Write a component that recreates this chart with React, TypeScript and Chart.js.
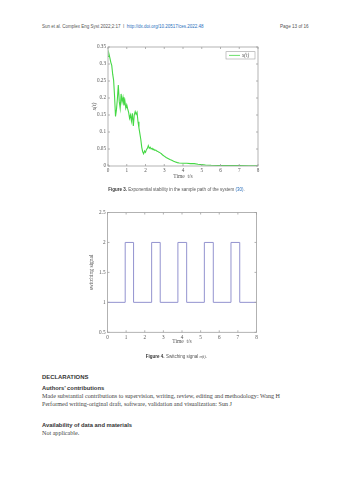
import React, { useEffect, useRef } from "react";
import { Chart, registerables } from "chart.js";

Chart.register(...registerables);

// ---------- Figure 3 data: sample path x(t) ----------
const pathTimes = [
  0.0, 0.05, 0.1, 0.15, 0.2, 0.25, 0.3, 0.35, 0.4, 0.45, 0.5, 0.55, 0.6, 0.65, 0.7, 0.75, 0.8, 0.85, 0.9, 0.95,
  1.0, 1.05, 1.1, 1.15, 1.2, 1.25, 1.3, 1.35, 1.4, 1.45, 1.5, 1.55, 1.6, 1.65, 1.7, 1.75, 1.8, 1.85, 1.9, 1.95,
  2.0, 2.05, 2.1, 2.15, 2.2, 2.25, 2.3, 2.35, 2.4, 2.45, 2.5, 2.55, 2.6, 2.65, 2.7, 2.75, 2.8, 2.85, 2.9, 2.95,
  3.0, 3.1, 3.2, 3.3, 3.4, 3.5, 3.6, 3.7, 3.8, 4.0, 4.2, 4.4, 4.6, 4.8, 5.0, 5.2, 5.5, 6.0, 6.5, 7.0, 7.5, 8.0,
];
const pathValues = [
  0.322, 0.33, 0.318, 0.305, 0.296, 0.27, 0.252, 0.205, 0.146, 0.165, 0.198, 0.238, 0.19, 0.17, 0.212, 0.188, 0.202, 0.178, 0.192, 0.17,
  0.18, 0.168, 0.158, 0.14, 0.15, 0.132, 0.155, 0.118, 0.15, 0.16, 0.152, 0.158, 0.13, 0.112, 0.095, 0.078, 0.055, 0.042, 0.036, 0.044,
  0.04, 0.048, 0.052, 0.06, 0.052, 0.055, 0.05, 0.052, 0.048, 0.049, 0.046, 0.047, 0.044, 0.043, 0.041, 0.04, 0.038, 0.036, 0.033, 0.031,
  0.029, 0.025, 0.022, 0.019, 0.017, 0.014, 0.012, 0.01, 0.009, 0.008, 0.008, 0.007, 0.007, 0.005, 0.004, 0.003, 0.002, 0.0015, 0.001, 0.001, 0.0008, 0.0008,
];

// ---------- Figure 4 data: switching signal ----------
const switchTimes = [0, 0.95, 1.4, 2.37, 2.83, 3.78, 4.25, 5.2, 5.68, 6.63, 7.1, 8];
const switchValues = [1, 2, 1, 2, 1, 2, 1, 2, 1, 2, 1, 1];

const xTicks1 = [0, 1, 2, 3, 4, 5, 6, 7, 8];
const yTicks1 = [0, 0.05, 0.1, 0.15, 0.2, 0.25, 0.3, 0.35];
const yTicks2 = [0.5, 1, 1.5, 2, 2.5];

const TICK_FONT = { family: "'Liberation Serif', 'DejaVu Serif', serif", size: 5.2 };
const TICK_COLOR = "#555";
const FRAME_COLOR = "#a0a0a0";
const GREEN = "#45d845";
const PURPLE = "#9393cf";

const framePlugin = {
  id: "frame",
  afterDraw(chart: any, _args: any, opts: any) {
    const { ctx, chartArea, scales } = chart;
    const { left, right, top, bottom } = chartArea;
    const xs = scales.x;
    const ys = scales.y;
    ctx.save();
    ctx.strokeStyle = FRAME_COLOR;
    ctx.lineWidth = 0.8;
    ctx.strokeRect(left, top, right - left, bottom - top);
    const tl = 2;
    ctx.beginPath();
    xs.ticks.forEach((t: any) => {
      const px = xs.getPixelForValue(t.value);
      ctx.moveTo(px, bottom);
      ctx.lineTo(px, bottom - tl);
      ctx.moveTo(px, top);
      ctx.lineTo(px, top + tl);
    });
    ys.ticks.forEach((t: any) => {
      const py = ys.getPixelForValue(t.value);
      ctx.moveTo(left, py);
      ctx.lineTo(left + tl, py);
      ctx.moveTo(right, py);
      ctx.lineTo(right - tl, py);
    });
    ctx.stroke();

    ctx.fillStyle = TICK_COLOR;
    ctx.font = "5.5px 'Liberation Serif', serif";
    ctx.textAlign = "center";
    ctx.textBaseline = "middle";
    ctx.fillText(opts.xTitle, (left + right) / 2, bottom + opts.xTitleOffset);
    ctx.save();
    ctx.translate(left - opts.yTitleOffset, (top + bottom) / 2);
    ctx.rotate(-Math.PI / 2);
    ctx.font = opts.yTitleFont || "5.5px 'Liberation Serif', serif";
    ctx.fillText(opts.yTitle, 0, 0);
    ctx.restore();

    if (opts.legend) {
      const bx = right - 32;
      const by = top + 4.7;
      ctx.strokeStyle = FRAME_COLOR;
      ctx.lineWidth = 0.6;
      ctx.strokeRect(bx, by, 29, 7.3);
      ctx.strokeStyle = opts.legendColor;
      ctx.lineWidth = 0.8;
      ctx.beginPath();
      ctx.moveTo(bx + 3, by + 3.7);
      ctx.lineTo(bx + 14, by + 3.7);
      ctx.stroke();
      ctx.fillStyle = TICK_COLOR;
      ctx.textAlign = "left";
      ctx.font = "italic 5.2px 'Liberation Serif', serif";
      ctx.fillText(opts.legend, bx + 16, by + 3.8);
    }
    ctx.restore();
  },
};

function fmt(v: number) {
  return String(Number(v.toFixed(2)));
}

function makeScales(xMin: number, xMax: number, xTicks: number[], yMin: number, yMax: number, yTicks: number[], yWidth: number, xHeight: number) {
  return {
    x: {
      type: "linear",
      min: xMin,
      max: xMax,
      grid: { display: false, drawTicks: false },
      border: { display: false },
      afterBuildTicks: (s: any) => {
        s.ticks = xTicks.map((v) => ({ value: v }));
      },
      afterFit: (s: any) => {
        s.height = xHeight;
      },
      ticks: { font: TICK_FONT, color: TICK_COLOR, padding: 2, maxRotation: 0, autoSkip: false, callback: (v: any) => fmt(v) },
    },
    y: {
      type: "linear",
      min: yMin,
      max: yMax,
      grid: { display: false, drawTicks: false },
      border: { display: false },
      afterBuildTicks: (s: any) => {
        s.ticks = yTicks.map((v) => ({ value: v }));
      },
      afterFit: (s: any) => {
        s.width = yWidth;
      },
      ticks: { font: TICK_FONT, color: TICK_COLOR, padding: 2, autoSkip: false, callback: (v: any) => fmt(v) },
    },
  };
}

function PathChart() {
  const ref = useRef<HTMLCanvasElement>(null);
  useEffect(() => {
    const chart = new Chart(ref.current as HTMLCanvasElement, {
      type: "line",
      data: {
        datasets: [
          {
            data: pathTimes.map((t, i) => ({ x: t, y: pathValues[i] })),
            borderColor: GREEN,
            borderWidth: 1.1,
            pointRadius: 0,
            tension: 0,
          },
        ],
      },
      options: {
        animation: false,
        responsive: false,
        layout: { padding: { left: 0, top: 12, right: 17, bottom: 0 } },
        plugins: {
          legend: { display: false },
          tooltip: { enabled: false },
          frame: { xTitle: "Time  t/s", yTitle: "x(t)", yTitleFont: "italic 5.5px 'Liberation Serif', serif", xTitleOffset: 10.7, yTitleOffset: 13, legend: "x(t)", legendColor: GREEN },
        } as any,
        scales: makeScales(0, 8, xTicks1, 0, 0.35, yTicks1, 48, 24) as any,
      },
      plugins: [framePlugin],
    });
    return () => chart.destroy();
  }, []);
  return <canvas ref={ref} width={215} height={155} style={{ position: "absolute", left: 60, top: 35, width: 215, height: 155 }} />;
}

function SwitchChart() {
  const ref = useRef<HTMLCanvasElement>(null);
  useEffect(() => {
    const chart = new Chart(ref.current as HTMLCanvasElement, {
      type: "line",
      data: {
        datasets: [
          {
            data: switchTimes.map((t, i) => ({ x: t, y: switchValues[i] })),
            borderColor: PURPLE,
            borderWidth: 1,
            pointRadius: 0,
            stepped: "before",
          },
        ],
      },
      options: {
        animation: false,
        responsive: false,
        layout: { padding: { left: 0, top: 12.5, right: 18.5, bottom: 0 } },
        plugins: {
          legend: { display: false },
          tooltip: { enabled: false },
          frame: { xTitle: "Time  t/s", yTitle: "switching signal", xTitleOffset: 9.5, yTitleOffset: 15.5 },
        } as any,
        scales: makeScales(0, 8, xTicks1, 0.5, 2.5, yTicks2, 47.5, 22.7) as any,
      },
      plugins: [framePlugin],
    });
    return () => chart.destroy();
  }, []);
  return <canvas ref={ref} width={215} height={155} style={{ position: "absolute", left: 60, top: 200, width: 215, height: 155 }} />;
}

const SANS = "'Liberation Sans', Arial, sans-serif";
const SERIF = "'Liberation Serif', 'Times New Roman', serif";

function Txt(props: { x?: number; y: number; size: number; font?: string; weight?: any; color?: string; center?: boolean; children: any }) {
  const { x = 0, y, size, font = SANS, weight = "normal", color = "#333", center, children } = props;
  return (
    <div
      style={{
        position: "absolute",
        left: center ? 0 : x,
        width: center ? 353 : undefined,
        textAlign: center ? "center" : "left",
        top: y - size * 0.6,
        fontSize: size,
        lineHeight: `${size * 1.2}px`,
        fontFamily: font,
        fontWeight: weight,
        color,
        whiteSpace: "nowrap",
      }}
    >
      {children}
    </div>
  );
}

export default function App() {
  return (
    <div style={{ position: "absolute", left: 0, top: 0, width: 353, height: 480, background: "#fff", overflow: "hidden" }}>
      <Txt x={42} y={27} size={4.5} color="#555">
        Sun et al. Complex Eng Syst 2022;2:17&nbsp;&nbsp;I&nbsp;&nbsp;<span style={{ color: "#2a6ebb" }}>http://dx.doi.org/10.20517/ces.2022.48</span>
      </Txt>
      <Txt x={280} y={27} size={4.6} color="#555">Page 13 of 16</Txt>

      <PathChart />
      <Txt center y={189.3} size={4.5} color="#555">
        <b style={{ color: "#333" }}>Figure 3.</b> Exponential stability in the sample path of the system <span style={{ color: "#2a6ebb" }}>(30)</span>.
      </Txt>

      <SwitchChart />
      <Txt center y={356.5} size={4.5} color="#555">
        <b style={{ color: "#333" }}>Figure 4.</b> Switching signal <span style={{ fontFamily: SERIF, fontStyle: "italic" }}>σ(t)</span>.
      </Txt>

      <Txt x={42} y={378} size={5.9} weight="bold" color="#333">DECLARATIONS</Txt>
      <Txt x={42} y={388} size={5.8} weight="bold" color="#333">Authors’ contributions</Txt>
      <Txt x={42} y={396.7} size={6.1} font={SERIF} color="#444">
        Made substantial contributions to supervision, writing, review, editing and methodology: Wang H
      </Txt>
      <Txt x={42} y={405} size={6.1} font={SERIF} color="#444">
        Performed writing-original draft, software, validation and visualization: Sun J
      </Txt>
      <Txt x={42} y={425} size={5.8} weight="bold" color="#333">Availability of data and materials</Txt>
      <Txt x={42} y={433.3} size={6.1} font={SERIF} color="#444">Not applicable.</Txt>
    </div>
  );
}
